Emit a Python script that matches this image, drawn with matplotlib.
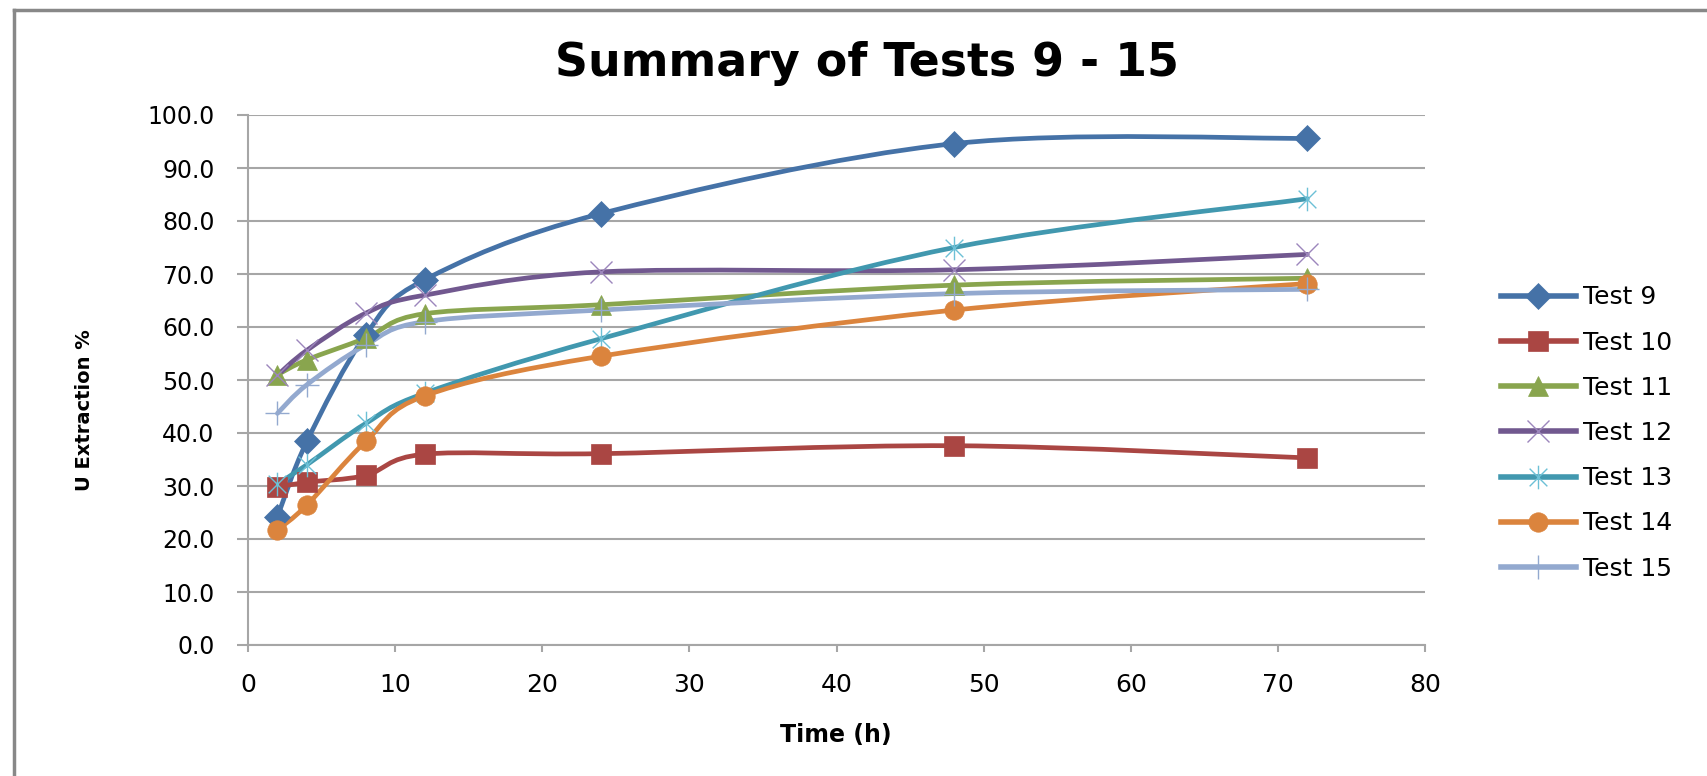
import numpy as np
import matplotlib
matplotlib.use("Agg")
import matplotlib.pyplot as plt
from matplotlib.path import Path
from matplotlib.patches import PathPatch
from matplotlib.lines import Line2D

# ----------------------------
# Data
# ----------------------------
hours = [2, 4, 8, 12, 24, 48, 72]

test9 = [24.2, 38.4, 58.5, 68.9, 81.4, 94.6, 95.6]
test10 = [29.8, 30.7, 32.0, 36.0, 36.1, 37.6, 35.3]
test11 = [51.0, 53.8, 57.9, 62.5, 64.2, 67.9, 69.2]
test12 = [50.9, 55.6, 62.6, 66.0, 70.4, 70.8, 73.7]
test13 = [30.4, 34.0, 41.8, 47.5, 57.8, 75.0, 84.2]
test14 = [21.7, 26.4, 38.4, 47.0, 54.5, 63.2, 68.2]
test15 = [43.7, 49.1, 56.6, 61.0, 63.2, 66.3, 67.1]

labels = ['Test 9', 'Test 10', 'Test 11', 'Test 12', 'Test 13', 'Test 14', 'Test 15']
series = [test9, test10, test11, test12, test13, test14, test15]

colors = ['#4572A7', '#AA4643', '#89A54E', '#71588F', '#4198AF', '#DB843D', '#93A9CF']
mcolors = ['#4572A7', '#AA4643', '#89A54E', '#9C86BC', '#6CC0D6', '#DB843D', '#93A9CF']

# asterisk marker like Excel's: vertical line plus an X
star = Path([(0, -1), (0, 1), (-0.75, -0.75), (0.75, 0.75), (-0.75, 0.75), (0.75, -0.75)],
            [Path.MOVETO, Path.LINETO, Path.MOVETO, Path.LINETO, Path.MOVETO, Path.LINETO])

markers = ['D', 's', '^', 'x', star, 'o', '+']
msizes = [13, 14, 14, 16, 17, 14, 17]


def smooth_path(x, y):
    # Catmull-Rom style bezier like Excel's smoothed line
    pts = np.column_stack([x, y]).astype(float)
    n = len(pts)
    verts = [pts[0]]
    codes = [Path.MOVETO]
    for i in range(n - 1):
        p0 = pts[i - 1] if i > 0 else pts[i]
        p1 = pts[i]
        p2 = pts[i + 1]
        p3 = pts[i + 2] if i + 2 < n else pts[i + 1]
        c1 = p1 + (p2 - p0) / 6.0
        c2 = p2 - (p3 - p1) / 6.0
        verts += [c1, c2, p2]
        codes += [Path.CURVE4] * 3
    return Path(verts, codes)


plt.rcParams['font.family'] = ['DejaVu Sans']

fig = plt.figure(figsize=(17.07, 7.76), dpi=100)
ax = fig.add_axes([248 / 1707, 1 - 645 / 776, 1177 / 1707, 530 / 776])

handles = []
for i in range(len(series)):
    patch = PathPatch(smooth_path(hours, series[i]), facecolor='none', edgecolor=colors[i],
                      linewidth=3.4, capstyle='round', joinstyle='round', zorder=3)
    ax.add_patch(patch)
    thin = markers[i] in ('x', '+') or markers[i] is star
    ax.plot(hours, series[i], linestyle='none', marker=markers[i], markersize=msizes[i],
            color=mcolors[i], markeredgewidth=1.0 if thin else 0.5, zorder=4)
    handles.append(Line2D([], [], color=colors[i], linewidth=4, marker=markers[i],
                          markersize=msizes[i], markerfacecolor=mcolors[i],
                          markeredgecolor=mcolors[i],
                          markeredgewidth=1.0 if thin else 0.5))

ax.set_xlim(0, 80)
ax.set_ylim(0, 100)
ax.set_xticks(np.arange(0, 81, 10))
ax.set_yticks(np.arange(0, 101, 10))
ax.set_yticklabels(['%.1f' % v for v in np.arange(0, 101, 10)])

ax.grid(axis='y', color='#A6A6A6', linewidth=1.5)
ax.set_axisbelow(True)
for s in ['top', 'right']:
    ax.spines[s].set_visible(False)
for s in ['left', 'bottom']:
    ax.spines[s].set_color('#A6A6A6')
    ax.spines[s].set_linewidth(1.5)
ax.tick_params(axis='y', length=8, width=1.5, color='#A6A6A6', pad=16, labelsize=17)
ax.tick_params(axis='x', length=5, width=1.5, color='#A6A6A6', pad=15, labelsize=18)

fig.text(867 / 1707, 1 - 63 / 776, 'Summary of Tests 9 - 15', fontsize=33, fontweight='bold',
         ha='center', va='center')
fig.text(84 / 1707, 1 - 410 / 776, 'U Extraction %', fontsize=14, fontweight='bold',
         rotation=90, ha='center', va='center')
fig.text(836 / 1707, 1 - 735 / 776, 'Time (h)', fontsize=17, fontweight='bold',
         ha='center', va='center')

fig.legend(handles, labels, loc='center left', bbox_to_anchor=(1478 / 1707, 1 - 433 / 776),
           frameon=False, fontsize=18, handlelength=3.0, handletextpad=0.3, labelspacing=0.85)

# outer chart border (left and top edges only visible)
fig.add_artist(Line2D([14 / 1707, 14 / 1707], [0, 1 - 10 / 776], transform=fig.transFigure,
                      color='#888888', linewidth=2.5))
fig.add_artist(Line2D([14 / 1707, 1], [1 - 10 / 776, 1 - 10 / 776], transform=fig.transFigure,
                      color='#888888', linewidth=2.5))

plt.savefig("out.png", dpi=100)
